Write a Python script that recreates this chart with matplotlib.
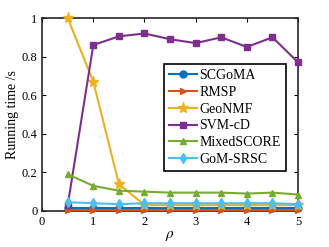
import matplotlib
matplotlib.use('Agg')
import matplotlib.pyplot as plt

plt.rcParams['font.family'] = ['Liberation Serif', 'DejaVu Serif']
plt.rcParams['mathtext.fontset'] = 'stix'

# ── data ──────────────────────────────────────────────────────────────────────
rho = [0.5, 1.0, 1.5, 2.0, 2.5, 3.0, 3.5, 4.0, 4.5, 5.0]
scgoma = [0.015, 0.015, 0.015, 0.015, 0.015, 0.015, 0.015, 0.015, 0.015, 0.015]
rmsp = [0.004, 0.004, 0.004, 0.004, 0.004, 0.004, 0.004, 0.004, 0.004, 0.004]
geonmf = [1.0, 0.67, 0.14, 0.03, 0.03, 0.03, 0.03, 0.03, 0.03, 0.03]
svmcd = [0.03, 0.86, 0.905, 0.92, 0.89, 0.87, 0.90, 0.85, 0.90, 0.77]
mixedscore = [0.19, 0.13, 0.105, 0.10, 0.095, 0.095, 0.095, 0.09, 0.095, 0.085]
gomsrsc = [0.045, 0.04, 0.035, 0.04, 0.04, 0.04, 0.04, 0.04, 0.04, 0.035]

series = [
    ('SCGoMA', scgoma, '#0072BD', 'o'),
    ('RMSP', rmsp, '#D95319', '>'),
    ('GeoNMF', geonmf, '#EDB120', '*'),
    ('SVM-cD', svmcd, '#7E2F8E', 's'),
    ('MixedSCORE', mixedscore, '#77AC30', '^'),
    ('GoM-SRSC', gomsrsc, '#4DBEEE', 'd'),
]

fig = plt.figure(figsize=(3.29, 2.47), dpi=100)
ax = fig.add_axes([0.128, 0.146, 0.778, 0.781])

for name, vals, col, mk in series:
    ms = 8 if mk == '*' else 5
    ax.plot(rho, vals, '-', marker=mk, color=col, linewidth=1.5,
            markersize=ms, label=name, clip_on=False, zorder=3)

ax.set_xlim(0, 5)
ax.set_ylim(0, 1)
ax.set_xticks(range(0, 6))
ax.set_yticks([0, 0.2, 0.4, 0.6, 0.8, 1])
ax.set_yticklabels(['0', '0.2', '0.4', '0.6', '0.8', '1'])
ax.tick_params(direction='in', top=True, right=True, labelsize=9, length=3, width=0.8)
for s in ax.spines.values():
    s.set_linewidth(1.2)
    s.set_color('#262626')

ax.set_xlabel(r'$\rho$', fontsize=11, labelpad=1)
ax.set_ylabel('Running time /s', fontsize=10, labelpad=2)

leg = ax.legend(loc='upper right', bbox_to_anchor=(0.952, 0.762), fontsize=10,
                fancybox=False, framealpha=1, edgecolor='black',
                handlelength=2.0, handletextpad=0.2, borderpad=0.35,
                labelspacing=0.28, borderaxespad=0)
leg.get_frame().set_linewidth(1.2)

plt.savefig('out.png', dpi=100)
